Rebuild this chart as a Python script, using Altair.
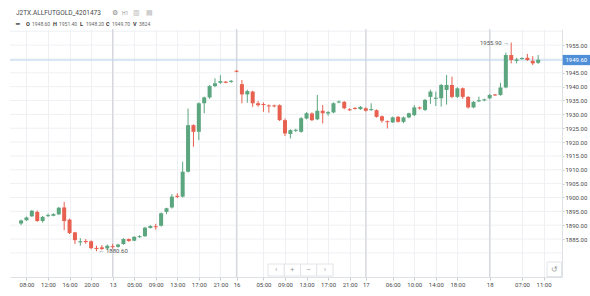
import altair as alt
import pandas as pd

# ---------------- data ----------------
bar_index = list(range(-1, 96))
opens = [1890.6, 1891.8, 1893.2, 1894.8, 1891.5, 1893.3, 1893.4, 1893.9, 1896.4, 1892.0,
         1887.4, 1883.8, 1884.3, 1884.2, 1881.8, 1882.0, 1881.6, 1882.4, 1882.2, 1883.2,
         1885.0, 1884.4, 1885.7, 1886.0, 1889.0, 1889.6, 1889.8, 1894.8, 1896.4, 1900.6,
         1900.3, 1909.3, 1926.1, 1923.7, 1934.0, 1936.1, 1940.2, 1941.4, 1941.8, 1941.7,
         1945.7, 1940.9, 1937.2, 1938.2, 1934.0, 1933.7, 1933.2, 1933.2, 1933.3, 1927.9,
         1922.9, 1924.1, 1923.7, 1928.5, 1930.3, 1928.2, 1931.3, 1930.3, 1930.7, 1934.3,
         1934.5, 1931.8, 1932.3, 1931.9, 1932.2, 1931.5, 1931.5, 1929.3, 1927.5, 1927.1,
         1929.1, 1927.3, 1928.9, 1929.7, 1932.5, 1931.6, 1936.3, 1935.6, 1935.8, 1938.8,
         1940.6, 1936.3, 1939.4, 1936.3, 1932.5, 1934.7, 1935.0, 1935.8, 1937.1, 1937.0,
         1939.7, 1951.4, 1949.3, 1950.0, 1950.4, 1949.3, 1948.6]
highs = [1892.0, 1893.1, 1895.5, 1895.3, 1893.3, 1894.2, 1894.3, 1896.6, 1898.4, 1892.4,
         1887.6, 1885.3, 1885.0, 1884.5, 1882.6, 1882.8, 1883.0, 1883.2, 1883.3, 1885.3,
         1885.2, 1886.0, 1886.4, 1889.4, 1890.0, 1890.5, 1894.6, 1896.3, 1901.2, 1901.5,
         1912.9, 1932.1, 1926.4, 1934.3, 1936.4, 1940.6, 1943.0, 1944.1, 1942.0, 1942.4,
         1946.0, 1942.4, 1938.9, 1938.5, 1934.8, 1934.3, 1933.6, 1933.5, 1933.6, 1928.5,
         1924.6, 1924.8, 1929.0, 1930.8, 1930.7, 1937.0, 1933.4, 1931.2, 1934.3, 1935.0,
         1934.8, 1932.2, 1932.6, 1933.0, 1932.5, 1934.0, 1931.8, 1929.6, 1927.8, 1929.2,
         1929.4, 1929.2, 1930.6, 1933.3, 1932.8, 1935.6, 1938.9, 1938.2, 1941.0, 1944.2,
         1943.6, 1939.8, 1939.7, 1936.6, 1934.8, 1936.4, 1935.7, 1937.3, 1937.3, 1941.4,
         1952.3, 1955.9, 1950.4, 1950.6, 1951.8, 1951.0, 1951.4]
lows = [1890.0, 1891.5, 1893.0, 1891.2, 1890.9, 1893.0, 1893.2, 1893.7, 1888.2, 1886.8,
        1883.2, 1882.6, 1883.3, 1881.3, 1880.6, 1881.0, 1881.2, 1881.5, 1881.9, 1882.9,
        1884.0, 1884.2, 1885.4, 1885.8, 1888.8, 1888.4, 1889.5, 1894.0, 1896.0, 1899.8,
        1900.0, 1909.0, 1918.3, 1920.7, 1930.4, 1935.6, 1939.8, 1941.0, 1941.2, 1941.4,
        1945.2, 1934.0, 1934.2, 1932.7, 1932.8, 1930.9, 1930.6, 1932.5, 1927.6, 1922.2,
        1921.3, 1923.6, 1923.4, 1928.2, 1927.6, 1927.9, 1926.7, 1929.5, 1930.4, 1934.0,
        1931.8, 1931.2, 1931.7, 1931.6, 1931.0, 1931.3, 1928.8, 1927.0, 1924.9, 1926.9,
        1927.0, 1926.8, 1928.6, 1929.4, 1931.7, 1931.2, 1933.8, 1933.0, 1932.8, 1933.5,
        1935.8, 1935.9, 1935.6, 1932.1, 1932.2, 1934.4, 1934.7, 1935.5, 1936.6, 1936.7,
        1939.4, 1948.4, 1948.4, 1949.7, 1949.3, 1947.8, 1948.2]
closes = [1891.7, 1892.8, 1895.2, 1891.5, 1893.0, 1893.6, 1894.0, 1896.3, 1891.5, 1887.2,
          1884.6, 1884.2, 1883.9, 1881.7, 1881.4, 1881.4, 1882.6, 1882.1, 1883.0, 1885.0,
          1884.3, 1885.8, 1886.0, 1889.1, 1889.7, 1889.3, 1894.3, 1896.1, 1900.3, 1900.2,
          1909.3, 1926.1, 1923.7, 1934.0, 1936.1, 1940.2, 1941.2, 1942.0, 1941.4, 1942.1,
          1945.4, 1937.2, 1938.4, 1934.0, 1933.3, 1933.4, 1932.9, 1932.9, 1927.9, 1923.1,
          1924.3, 1924.4, 1928.6, 1930.4, 1927.9, 1931.3, 1930.4, 1930.8, 1934.0, 1934.6,
          1932.2, 1931.5, 1932.0, 1932.7, 1931.3, 1931.9, 1929.1, 1927.7, 1927.2, 1928.9,
          1927.3, 1928.9, 1930.4, 1932.5, 1932.1, 1935.2, 1938.2, 1936.0, 1940.6, 1940.6,
          1936.3, 1939.4, 1936.3, 1932.5, 1934.5, 1935.1, 1935.4, 1937.0, 1936.9, 1939.7,
          1951.4, 1949.6, 1949.8, 1950.3, 1949.6, 1948.4, 1949.7]

x_tick_pos = [0, 4, 8, 12, 16, 20, 24, 28, 32, 36, 39, 44, 48, 52, 56, 60, 63,
              68, 72, 76, 80, 86, 92, 96]
x_tick_labels = ["08:00", "12:00", "16:00", "20:00", "13", "05:00", "09:00", "13:00",
                 "17:00", "21:00", "16", "05:00", "09:00", "13:00", "17:00", "21:00",
                 "17", "06:00", "10:00", "14:00", "18:00", "18", "07:00", "11:00"]
day_breaks = [16, 39, 63, 86]
y_ticks = [1885, 1890, 1895, 1900, 1905, 1910, 1915, 1920, 1925, 1930, 1935,
           1940, 1945, 1950, 1955]
y_grid = [1880, 1885, 1890, 1895, 1900, 1905, 1910, 1915, 1920, 1925, 1930, 1935,
          1940, 1945, 1950, 1955, 1960]
last_price = [1949.60]
high_bar, high_value = [90], [1955.90]
low_bar, low_value = [13], [1880.60]

symbol_title = "J2TX.ALLFUTGOLD_4201473"
ohlc_letters = ["O", "H", "L", "C", "V"]
ohlc_values = ["1948.60", "1951.40", "1948.20", "1949.70", "3824"]

# ---------------- style ----------------
UP = "#5ba57f"
DOWN = "#e8604f"
GRID = "#eef0f3"
FONT = "Roboto"
W, H = 552, 248

df = pd.DataFrame({"i": bar_index, "o": opens, "h": highs, "l": lows, "c": closes})
df["dir"] = ["up" if c >= o else "down" for o, c in zip(opens, closes)]

xs = alt.Scale(domain=[-2.13, 98.5], nice=False, zero=False)
ys = alt.Scale(domain=[1871.3, 1960.8], nice=False, zero=False)
col = alt.Color("dir:N", scale=alt.Scale(domain=["up", "down"], range=[UP, DOWN]), legend=None)

label_expr = ("[" + ",".join("'%s'" % s for s in x_tick_labels) + "][indexof(["
              + ",".join(str(p) for p in x_tick_pos) + "], datum.value)]")

xaxis = alt.Axis(values=x_tick_pos, labelExpr=label_expr, grid=True, gridColor=GRID,
                 domainColor="#dde0e5", tickColor="#c9cdd3", tickSize=3, labelFontSize=6,
                 labelFont=FONT, labelColor="#4a4a4a", labelPadding=1, title=None,
                 labelFlush=False, labelOverlap=False)
yaxis = alt.Axis(orient="right", values=y_ticks, format=".2f", grid=False,
                 domainColor="#dde0e5", tickColor="#c9cdd3", tickSize=2, labelFontSize=6,
                 labelFont=FONT, labelColor="#4a4a4a", labelPadding=1, title=None,
                 labelOverlap=False)


def X(field):
    return alt.X(field, scale=xs, axis=xaxis)


def Y(field):
    return alt.Y(field, scale=ys, axis=yaxis)


hgrid = alt.Chart(pd.DataFrame({"g": y_grid})).mark_rule(color=GRID, strokeWidth=1).encode(
    y=Y("g:Q"))

seps = alt.Chart(pd.DataFrame({"d": day_breaks})).mark_rule(color="#d4d7dc", strokeWidth=1.2).encode(
    x=X("d:Q"))

pline = alt.Chart(pd.DataFrame({"p": last_price})).mark_rule(color="#b7d2ee", strokeWidth=1).encode(
    y=Y("p:Q"))

wicks = alt.Chart(df).mark_rule(strokeWidth=1).encode(
    x=X("i:Q"), y=Y("l:Q"), y2="h:Q", color=col)

bodies = alt.Chart(df).transform_calculate(
    lo="min(datum.o, datum.c)", hi="max(datum.o, datum.c)"
).transform_calculate(
    blo="datum.hi - datum.lo < 0.36 ? (datum.lo + datum.hi) / 2 - 0.18 : datum.lo",
    bhi="datum.hi - datum.lo < 0.36 ? (datum.lo + datum.hi) / 2 + 0.18 : datum.hi"
).mark_bar(size=4).encode(
    x=X("i:Q"), y=Y("blo:Q"), y2="bhi:Q", color=col)

hi_mark = alt.Chart(pd.DataFrame({"i": high_bar, "p": high_value})).transform_calculate(
    t="format(datum.p, '.2f') + ' →'"
).mark_text(align="right", baseline="middle", dx=-2, fontSize=6, font=FONT, color="#555555").encode(
    x=X("i:Q"), y=Y("p:Q"), text="t:N")

lo_mark = alt.Chart(pd.DataFrame({"i": low_bar, "p": low_value})).transform_calculate(
    t="'← ' + format(datum.p, '.2f')"
).mark_text(align="left", baseline="middle", dx=2, fontSize=6, font=FONT, color="#555555").encode(
    x=X("i:Q"), y=Y("p:Q"), text="t:N")

pbox_df = pd.DataFrame({"p": last_price})
pbox = alt.Chart(pbox_df).transform_calculate(
    lo="datum.p - 1.85", hi="datum.p + 1.85"
).mark_rect(color="#4f8fd8").encode(
    y=Y("lo:Q"), y2="hi:Q",
    x=alt.value(W + 0.7), x2=alt.value(W + 28))
ptext = alt.Chart(pbox_df).mark_text(color="white", fontSize=6, font=FONT, align="center",
                                     baseline="middle").encode(
    y=Y("p:Q"), x=alt.value(W + 14.3),
    text=alt.Text("p:Q", format=".2f"))

one = pd.DataFrame({"k": [0]})


def label(txt, x, y, size=6, color="#555555", weight="normal", align="left"):
    return alt.Chart(one).mark_text(text=txt, fontSize=size, font=FONT, color=color,
                                    fontWeight=weight, align=align, baseline="middle").encode(
        x=alt.value(x), y=alt.value(y))


header = [label(symbol_title, 6, -16, size=6.5, color="#4a4a4a"),
          label("⚙", 102, -16, size=7, color="#8a8a8a"),
          label("H1", 112, -16, size=5, color="#9a9a9a"),
          label("▥", 123, -16, size=6.5, color="#b0b0b0"),
          label("▤", 136, -16, size=6.5, color="#b0b0b0"),
          label("━", 6, -5, size=6, color="#333333", weight="bold")]
xpos = [16, 43, 70, 96, 123]
for letter, val, xp in zip(ohlc_letters, ohlc_values, xpos):
    header.append(label(letter, xp, -5, size=5.5, color="#333333", weight="bold"))
    header.append(label(val, xp + 6, -5, size=5, color="#666666"))

# navigation widget and reset button
nav = []
nav_syms = ["‹", "+", "−", "›"]
for k, s in enumerate(nav_syms):
    x0 = 258 + 16.25 * k
    nav.append(alt.Chart(one).mark_rect(fill="white", stroke="#e1e4e8", strokeWidth=1).encode(
        x=alt.value(x0), x2=alt.value(x0 + 16.25), y=alt.value(235), y2=alt.value(247)))
    nav.append(label(s, x0 + 8.1, 241, size=8, color="#a0a0a0", align="center"))
nav.append(alt.Chart(one).mark_rect(fill="white", stroke="#e1e4e8", strokeWidth=1).encode(
    x=alt.value(537), x2=alt.value(551.5), y=alt.value(233), y2=alt.value(247.5)))
nav.append(label("↺", 544.3, 240.5, size=8, color="#9a9a9a", align="center"))

chart = alt.layer(hgrid, seps, pline, wicks, bodies, hi_mark, lo_mark, pbox, ptext,
                  *header, *nav).properties(
    width=W, height=H,
    autosize=alt.AutoSizeParams(type="none"),
    padding={"left": 10, "top": 29, "right": 28, "bottom": 19},
    background="white",
).configure_view(stroke=None)

chart.save("out.html", embed_options={"renderer": "svg", "actions": False})
